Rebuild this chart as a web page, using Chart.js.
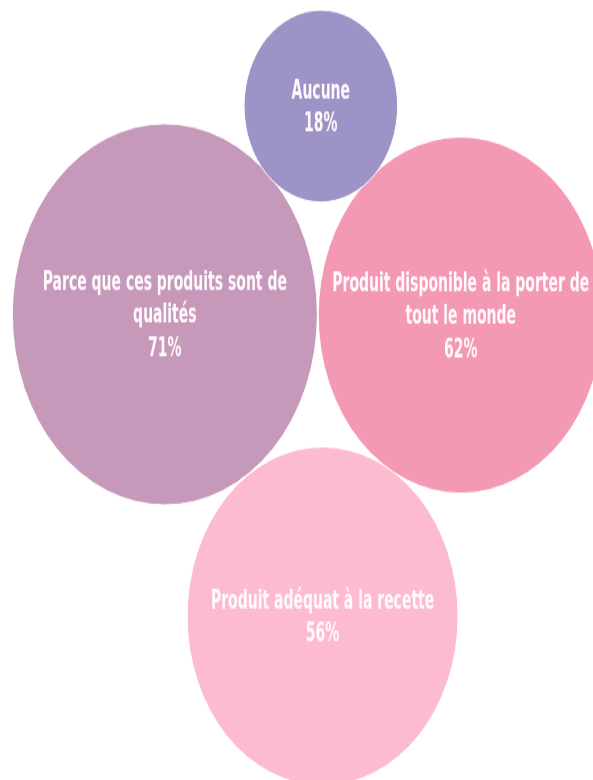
<!DOCTYPE html>
<html>
<head>
<meta charset="utf-8">
<script src="https://cdn.jsdelivr.net/npm/chart.js@4.4.1/dist/chart.umd.min.js"></script>
<style>
  html, body { margin: 0; padding: 0; background: #ffffff; overflow: hidden; }
  /* the bubbles are drawn on a wide canvas and stretched vertically into ovals */
  #wrap { position: absolute; left: 0; top: 0; width: 593px; height: 624px;
          transform: scaleY(1.25); transform-origin: 0 0; }
</style>
</head>
<body>
<div id="wrap"><canvas id="chart"></canvas></div>
<script>
// Reasons given, share of respondents (%)
const categories = [
  'Produit adéquat à la recette',
  'Produit disponible à la porter de tout le monde',
  'Parce que ces produits sont de qualités',
  'Aucune'
];
const values = [56, 62, 71, 18];

// bubble placement in layout units (0-100 on both axes, y from the top)
const bubbleX = [54.4, 77.7, 27.8, 54.1];
const bubbleY = [79.0, 40.4, 40.3, 13.6];

const colors = ['#FDBBD0', '#F499B4', '#C699BB', '#9D93C7'];

const FONT = 'bold 21px "Liberation Sans Narrow", "DejaVu Sans Condensed", sans-serif';
const SQUEEZE = 0.74;   // condensed lettering
const LINE_H = 26.5;
const WRAP_W = 265;

function wrap(ctx, text, maxW) {
  const words = text.split(' ');
  const lines = [];
  let cur = '';
  for (const w of words) {
    const test = cur ? cur + ' ' + w : w;
    if (cur && ctx.measureText(test).width * SQUEEZE > maxW) {
      lines.push(cur);
      cur = w;
    } else {
      cur = test;
    }
  }
  if (cur) lines.push(cur);
  return lines;
}

const bubbleLabels = {
  id: 'bubbleLabels',
  afterDatasetsDraw(chart) {
    const ctx = chart.ctx;
    const meta = chart.getDatasetMeta(0);
    ctx.save();
    ctx.font = FONT;
    ctx.fillStyle = '#FFFAFC';
    ctx.textAlign = 'center';
    ctx.textBaseline = 'middle';
    meta.data.forEach((el, i) => {
      const lines = wrap(ctx, categories[i], WRAP_W);
      lines.push(values[i] + '%');
      const top = el.y - (lines.length - 1) * LINE_H / 2 + 1.5;
      lines.forEach((ln, j) => {
        ctx.save();
        ctx.translate(el.x, top + j * LINE_H);
        ctx.scale(SQUEEZE, 1);
        ctx.fillText(ln, 0, 0);
        ctx.restore();
      });
    });
    ctx.restore();
  }
};

new Chart(document.getElementById('chart'), {
  type: 'bubble',
  data: {
    labels: categories,
    datasets: [{
      data: bubbleX.map((x, i) => ({ x: x, y: bubbleY[i] })),
      backgroundColor: colors,
      borderColor: '#ffffff',
      borderWidth: 1,
      clip: false,
      // bubble area proportional to the share
      radius: (c) => c.chart.width * 0.03053 * Math.sqrt(values[c.dataIndex]),
      hoverRadius: 0
    }]
  },
  options: {
    responsive: true,
    maintainAspectRatio: false,
    animation: false,
    layout: { padding: 0, autoPadding: false },
    plugins: { legend: { display: false }, tooltip: { enabled: false } },
    scales: {
      x: { type: 'linear', min: 0, max: 100, display: false },
      y: { type: 'linear', min: 0, max: 100, reverse: true, display: false }
    }
  },
  plugins: [bubbleLabels]
});
</script>
</body>
</html>
